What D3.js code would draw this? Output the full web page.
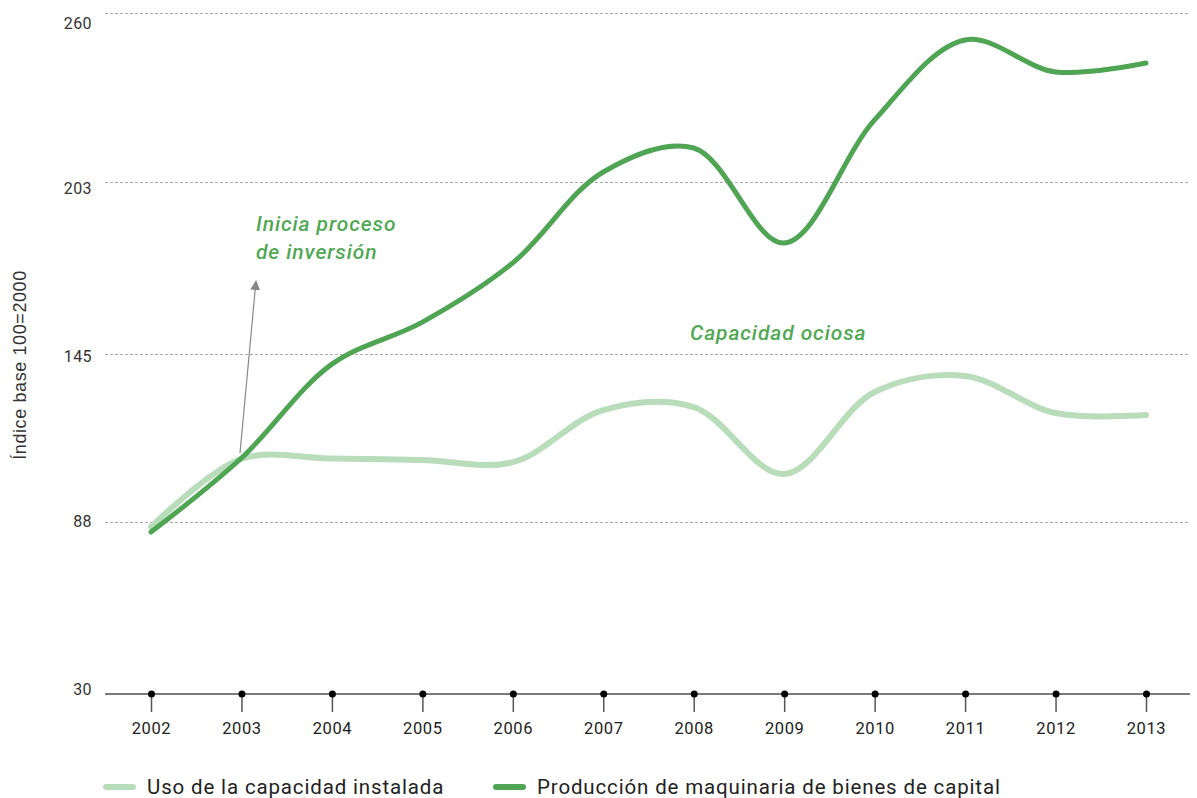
<!DOCTYPE html>
<html>
<head>
<meta charset="utf-8">
<script src="https://cdn.jsdelivr.net/npm/d3@7/dist/d3.min.js"></script>
<style>
  html, body { margin: 0; padding: 0; background: #fff; }
  svg { display: block; }
</style>
</head>
<body>
<svg id="chart" width="1197" height="798"></svg>
<script>
// Años del eje horizontal
const years = [2002, 2003, 2004, 2005, 2006, 2007, 2008, 2009, 2010, 2011, 2012, 2013];

// Uso de la capacidad instalada (índice base 100=2000)
const usoCapacidad = [86.4, 109.4, 109.5, 109.0, 108.3, 125.9, 126.9, 104.3, 132.0, 137.4, 124.9, 124.2];

// Producción de maquinaria de bienes de capital (índice base 100=2000)
const produccionMaquinaria = [84.7, 109.7, 141.4, 155.6, 175.6, 206.3, 214.4, 182.3, 223.9, 250.9, 240.1, 243.1];

// Marcas del eje vertical
const yTicks = [30, 88, 145, 203, 260];

const seriesNames = ["Uso de la capacidad instalada", "Producción de maquinaria de bienes de capital"];
const seriesColors = ["#b9dcbb", "#4fa553"];
const annotationColor = "#52a855";

const svg = d3.select("#chart");

const x = d3.scaleLinear().domain([2002, 2013]).range([151, 1146]);
const y = d3.scaleLinear().domain([30, 260]).range([694, 13]);
const gridLeft = 105, gridRight = 1190;

// Líneas de referencia punteadas
svg.append("g")
  .selectAll("line")
  .data(yTicks.filter(d => d !== 30))
  .join("line")
  .attr("x1", gridLeft).attr("x2", gridRight)
  .attr("y1", d => Math.round(y(d)) + 0.5).attr("y2", d => Math.round(y(d)) + 0.5)
  .attr("stroke", "#a9a9a9")
  .attr("stroke-width", 1)
  .attr("stroke-dasharray", "3,2");

// Etiquetas del eje vertical
const labelShift = d3.scaleLinear().domain([30, 260]).range([-5, 10]);
svg.append("g")
  .selectAll("text")
  .data(yTicks)
  .join("text")
  .attr("x", 92)
  .attr("y", d => y(d) + labelShift(d))
  .attr("dy", "0.35em")
  .attr("text-anchor", "end")
  .attr("font-family", "Roboto, 'DejaVu Sans', sans-serif")
  .attr("font-size", 16)
  .attr("letter-spacing", 0.4)
  .attr("fill", "#333")
  .text(d => d);

// Título del eje vertical
svg.append("text")
  .attr("transform", "translate(26,365) rotate(-90)")
  .attr("text-anchor", "middle")
  .attr("font-family", "'Liberation Sans', Arial, sans-serif")
  .attr("font-size", 18)
  .attr("letter-spacing", 0.6)
  .attr("fill", "#333")
  .text("Índice base 100=2000");

// Eje horizontal
const xAxisG = svg.append("g").attr("transform", `translate(0,${y(30)})`);
xAxisG.append("line")
  .attr("x1", gridLeft).attr("x2", gridRight)
  .attr("stroke", "#7a7a7a").attr("stroke-width", 2);
const xAxis = d3.axisBottom(x).tickValues(years).tickFormat(d3.format("d")).tickSize(18).tickPadding(10);
xAxisG.call(xAxis);
xAxisG.select(".domain").remove();
xAxisG.selectAll(".tick line").attr("stroke", "#555").attr("stroke-width", 1.5);
xAxisG.selectAll(".tick text")
  .attr("font-family", "Roboto, 'DejaVu Sans', sans-serif")
  .attr("font-size", 16.5)
  .attr("letter-spacing", 0.6)
  .attr("fill", "#222");
xAxisG.selectAll(".tick").append("circle").attr("r", 3.5).attr("fill", "#000");

// Curvas de las dos series
const line = d3.line()
  .x((d, i) => x(years[i]))
  .y(d => y(d))
  .curve(d3.curveCatmullRom.alpha(0.5));

svg.append("path")
  .datum(usoCapacidad)
  .attr("d", line)
  .attr("fill", "none")
  .attr("stroke", seriesColors[0])
  .attr("stroke-width", 6)
  .attr("stroke-linecap", "round");

svg.append("path")
  .datum(produccionMaquinaria)
  .attr("d", line)
  .attr("fill", "none")
  .attr("stroke", seriesColors[1])
  .attr("stroke-width", 5)
  .attr("stroke-linecap", "round");

// Flecha de anotación
const defs = svg.append("defs");
defs.append("marker")
  .attr("id", "arrowhead")
  .attr("viewBox", "0 0 10 10")
  .attr("refX", 9).attr("refY", 5)
  .attr("markerWidth", 10).attr("markerHeight", 10)
  .attr("markerUnits", "userSpaceOnUse")
  .attr("orient", "auto")
  .append("path")
  .attr("d", "M0,0 L10,5 L0,10 z")
  .attr("fill", "#85878d");

svg.append("line")
  .attr("x1", 240).attr("y1", 453)
  .attr("x2", 256).attr("y2", 281)
  .attr("stroke", "#85878d")
  .attr("stroke-width", 1.2)
  .attr("marker-end", "url(#arrowhead)");

// Textos de anotación
const annot = svg.append("g")
  .attr("font-family", "Roboto, 'DejaVu Sans', sans-serif")
  .attr("font-style", "italic")
  .attr("font-weight", 500)
  .attr("font-size", 21)
  .attr("letter-spacing", 0.9)
  .attr("fill", annotationColor);
annot.append("text").attr("x", 256).attr("y", 231).text("Inicia proceso");
annot.append("text").attr("x", 256).attr("y", 259).text("de inversión");
annot.append("text").attr("x", 690).attr("y", 340).text("Capacidad ociosa");

// Leyenda
const legendItems = [
  { name: seriesNames[0], color: seriesColors[0], x: 106 },
  { name: seriesNames[1], color: seriesColors[1], x: 496 }
];
const legend = svg.append("g").attr("transform", "translate(0,787)");
const li = legend.selectAll("g").data(legendItems).join("g")
  .attr("transform", d => `translate(${d.x},0)`);
li.append("line")
  .attr("x1", 0).attr("x2", 27)
  .attr("stroke", d => d.color)
  .attr("stroke-width", 6)
  .attr("stroke-linecap", "round");
li.append("text")
  .attr("x", 41)
  .attr("dy", "0.35em")
  .attr("font-family", "Roboto, 'DejaVu Sans', sans-serif")
  .attr("font-size", 20.5)
  .attr("letter-spacing", 0.85)
  .attr("fill", "#222")
  .text(d => d.name);
</script>
</body>
</html>
